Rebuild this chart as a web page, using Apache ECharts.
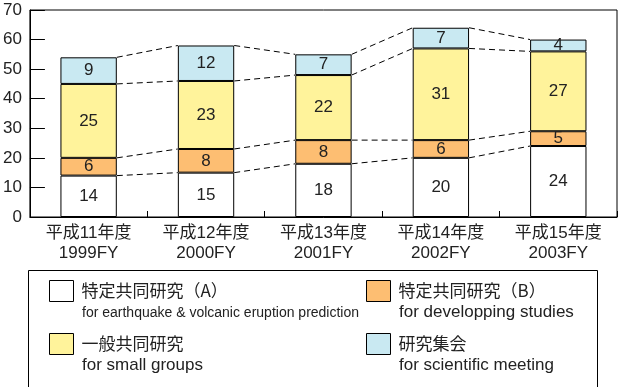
<!DOCTYPE html>
<html>
<head>
<meta charset="utf-8">
<script src="https://cdn.jsdelivr.net/npm/echarts@6/dist/echarts.min.js"></script>
<style>html,body{margin:0;padding:0;background:#fff;}#c{width:620px;height:387px;}</style>
</head>
<body>
<div id="c"></div>
<script>
const categories = ['平成11年度\n1999FY','平成12年度\n2000FY','平成13年度\n2001FY','平成14年度\n2002FY','平成15年度\n2003FY'];
const specialA = [14, 15, 18, 20, 24];
const specialB = [6, 8, 8, 6, 5];
const general = [25, 23, 22, 31, 27];
const meeting = [9, 12, 7, 7, 4];
const yTicks = [0, 10, 20, 30, 40, 50, 60, 70];

const names = ['特定共同研究（A）', '特定共同研究（B）', '一般共同研究', '研究集会'];
const enNames = ['for earthquake & volcanic eruption prediction', 'for developping studies', 'for small groups', 'for scientific meeting'];
const colors = ['#ffffff', '#fdbe72', '#fff39b', '#c9e9f2'];
const seriesData = [specialA, specialB, general, meeting];

// cumulative levels for connecting dashed lines
const levels = [];
let acc = categories.map(() => 0);
seriesData.forEach(arr => {
  acc = acc.map((v, i) => v + arr[i]);
  levels.push(acc.slice());
});

const BAR_RATIO = 0.48;
const chart = echarts.init(document.getElementById('c'), null, {renderer: 'canvas'});

const barSeries = seriesData.map((arr, k) => ({
  name: names[k],
  type: 'bar',
  stack: 'total',
  barWidth: (BAR_RATIO * 100) + '%',
  data: arr,
  itemStyle: {color: colors[k], borderColor: '#000', borderWidth: 1},
  label: {show: true, position: 'inside', color: '#222', fontSize: 17, fontFamily: 'Liberation Sans, Arial, sans-serif'},
  emphasis: {disabled: true},
  animation: false
}));

const connector = {
  type: 'custom',
  silent: true,
  animation: false,
  data: categories.slice(0, -1).map((c, i) => [i, 0]),
  renderItem: function (params, api) {
    const i = api.value(0);
    const half = api.size([1, 0])[0] * BAR_RATIO / 2;
    const children = levels.map(lv => {
      const p1 = api.coord([i, lv[i]]);
      const p2 = api.coord([i + 1, lv[i + 1]]);
      return {
        type: 'line',
        shape: {x1: p1[0] + half, y1: p1[1], x2: p2[0] - half, y2: p2[1]},
        style: {stroke: '#000', lineWidth: 1, lineDash: [6, 4]}
      };
    });
    return {type: 'group', children: children};
  }
};

const legendPos = [[49, 280], [366, 280], [49, 333], [366, 333]];
const legends = names.map((n, k) => ({
  data: [n],
  left: legendPos[k][0],
  top: legendPos[k][1],
  padding: 0,
  itemWidth: 24,
  itemHeight: 21,
  icon: 'rect',
  selectedMode: false,
  itemStyle: {borderColor: '#000', borderWidth: 1},
  textStyle: {fontSize: 17, color: '#222', fontFamily: 'Noto Sans CJK JP', padding: [0, 0, 0, 3]}
}));

const enText = enNames.map((t, k) => ({
  type: 'text',
  left: legendPos[k][0] + 33,
  top: legendPos[k][1] + (k === 0 ? 26 : 24),
  style: {
    text: t,
    fill: '#222',
    fontSize: k === 0 ? 14 : 17,
    fontFamily: 'Liberation Sans, Arial, sans-serif'
  }
}));

chart.setOption({
  animation: false,
  grid: {left: 29, right: 3, top: 10, bottom: 170, show: true, borderColor: '#000', borderWidth: 1, backgroundColor: 'transparent'},
  xAxis: {
    type: 'category',
    data: categories,
    axisLine: {lineStyle: {color: '#000', width: 1}},
    axisTick: {show: true, inside: true, length: 6, lineStyle: {color: '#000'}},
    axisLabel: {fontSize: 17, color: '#222', lineHeight: 20, margin: 6, fontFamily: 'Liberation Sans, Noto Sans CJK JP, sans-serif'},
    splitLine: {show: false}
  },
  yAxis: {
    type: 'value',
    min: yTicks[0],
    max: yTicks[yTicks.length - 1],
    interval: yTicks[1] - yTicks[0],
    axisLine: {show: true, lineStyle: {color: '#000', width: 1}},
    axisTick: {show: true, inside: true, length: 15, lineStyle: {color: '#000'}},
    axisLabel: {fontSize: 17, color: '#222', margin: 8, fontFamily: 'Liberation Sans, Arial, sans-serif'},
    splitLine: {show: false}
  },
  legend: legends,
  graphic: [
    {type: 'rect', shape: {x: 28.5, y: 270.5, width: 569, height: 140}, style: {fill: 'none', stroke: '#000', lineWidth: 1}, silent: true}
  ].concat(enText),
  series: barSeries.concat([connector])
});
</script>
</body>
</html>
